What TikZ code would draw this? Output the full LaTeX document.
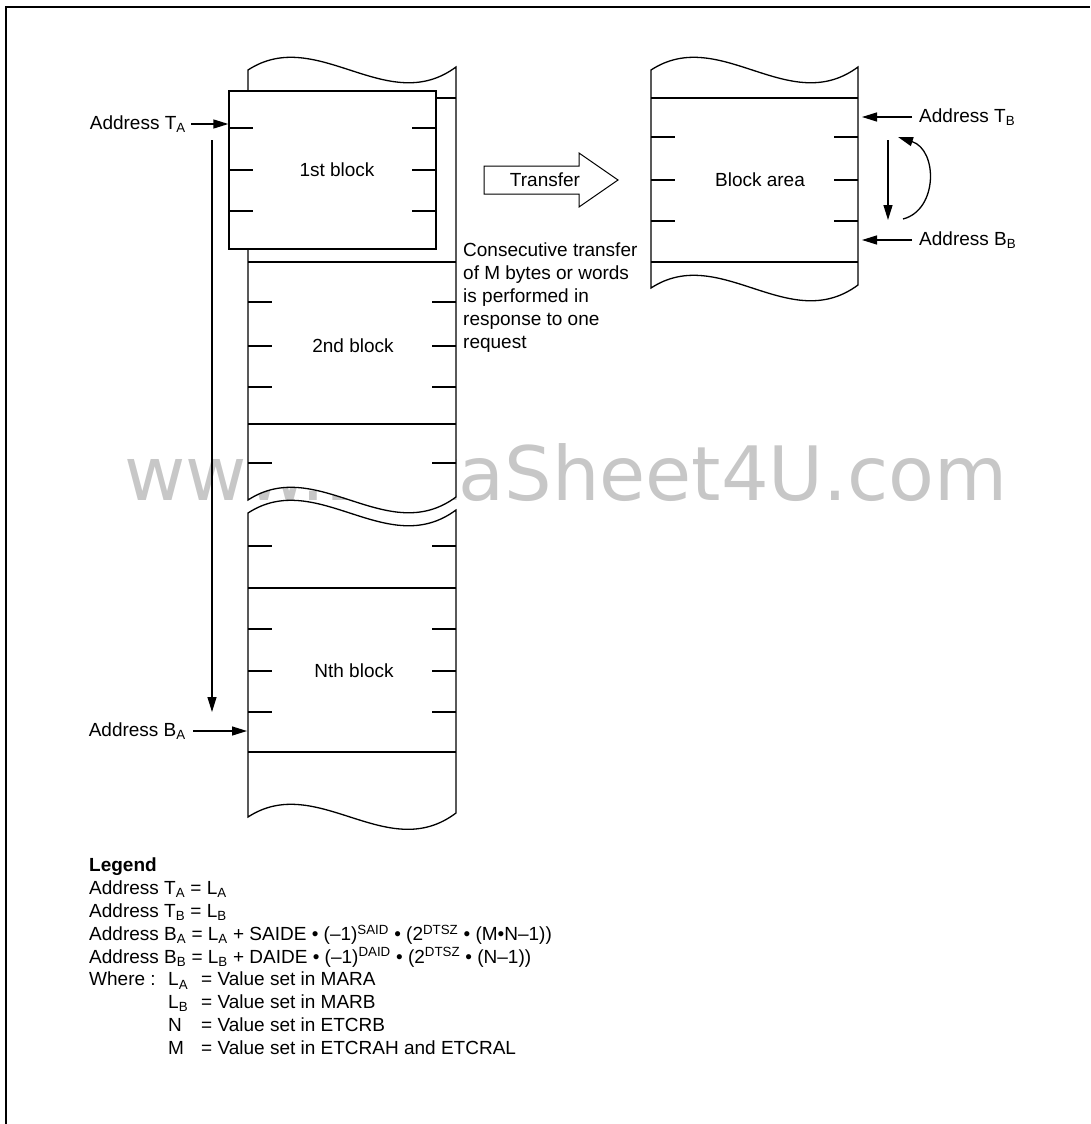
\documentclass[tikz,border=0pt]{standalone}
\usepackage{fontspec}
\setmainfont{Liberation Sans}
\newfontfamily\markfont{DejaVu Sans}
\usetikzlibrary{shapes.geometric, arrows, arrows.meta, positioning}

\tikzstyle{outline} = [
    draw=black,
    line width=1.3pt,
    fill=white
]
\tikzstyle{divider} = [line width=1.3pt]
\tikzstyle{txt} = [
    inner sep=0pt,
    font=\fontsize{19}{22.8}\selectfont
]
\tikzstyle{firstblock} = [
    rectangle,
    draw=black,
    line width=1.3pt,
    fill=white,
    minimum width=207pt,
    minimum height=158pt,
    inner sep=0pt,
    font=\fontsize{19}{22.8}\selectfont
]
\tikzstyle{arrow} = [line width=1.3pt, -{Triangle[length=15pt, width=9pt]}]

\begin{document}
\begin{tikzpicture}[x=1pt, y=-1pt]
\useasboundingbox (0,0) rectangle (1090,1124);

% frame
\draw[line width=2pt] (6,1124) -- (6,7) -- (1090,7);

% watermark
\node (mark) [inner sep=0pt, anchor=base east, text=black!22,
    font=\markfont\fontsize{75}{75}\selectfont] at (1008,500) {www.DataSheet4U.com};

% source area
\draw[outline] (248,70) .. controls (317,25) and (387,118) .. (456,67)
    -- (456,497) .. controls (387,548) and (317,455) .. (248,500) -- cycle;
\draw[outline] (248,513) .. controls (317,468) and (387,561) .. (456,510)
    -- (456,813) .. controls (387,865) and (317,772) .. (248,817) -- cycle;
\foreach \y in {98,262,424,588,752}
    \draw[divider] (248,\y) -- (456,\y);
\foreach \y in {302,346,387,463,546,629,671,712} {
    \draw[divider] (248,\y) -- +(24,0);
    \draw[divider] (456,\y) -- +(-24,0);
}

\node (blk1) [firstblock] at (332.5,170) {\hspace*{9pt}1st block};
\foreach \y in {128,170,211} {
    \draw[divider] (229,\y) -- +(24,0);
    \draw[divider] (436,\y) -- +(-24,0);
}
\node (blk2) [txt] at (353,346) {2nd block};
\node (blkn) [txt] at (354,671) {Nth block};

% destination area
\draw[outline] (651,70) .. controls (720,25) and (789,118) .. (858,67)
    -- (858,285) .. controls (789,336) and (720,243) .. (651,288) -- cycle;
\foreach \y in {98,262}
    \draw[divider] (651,\y) -- (858,\y);
\foreach \y in {137,180,221} {
    \draw[divider] (651,\y) -- +(24,0);
    \draw[divider] (858,\y) -- +(-24,0);
}
\node (area) [txt] at (760,180) {Block area};

% transfer
\draw[outline, line width=1pt] (484,166) -- (579,166) -- (579,153) -- (618,180)
    -- (579,207) -- (579,194) -- (484,194) -- cycle;
\node (xfer) [txt] at (545,180) {Transfer};
\node (note) [txt, anchor=north west, align=left] at (463,243)
{Consecutive transfer\\of M bytes or words\\is performed in\\response to one\\request};

% addresses
\node (ta) [txt, anchor=east] at (186,124) {Address T\textsubscript{A}};
\draw[arrow] ([xshift=5pt]ta.east) -- (blk1.west |- ta.east);
\node (ba) [txt, anchor=east] at (186,731) {Address B\textsubscript{A}};
\coordinate (baend) at (247,731);
\draw[arrow] ([xshift=7pt]ba.east) -- (baend);
\coordinate (vtop) at (212,140);
\coordinate (vbot) at (212,712);
\draw[arrow] (vtop) -- (vbot);

\node (tb) [txt, anchor=west] at (919,117) {Address T\textsubscript{B}};
\coordinate (tbend) at (862,117);
\draw[arrow] ([xshift=-7pt]tb.west) -- (tbend);
\node (bb) [txt, anchor=west] at (919,240) {Address B\textsubscript{B}};
\coordinate (bbend) at (862,240);
\draw[arrow] ([xshift=-7pt]bb.west) -- (bbend);

\coordinate (dtop) at (888,140);
\coordinate (dbot) at (888,220);
\draw[arrow] (dtop) -- (dbot);
\coordinate (cstart) at (903,219);
\coordinate (cend) at (898,137);
\draw[arrow] (cstart) .. controls (938,210) and (938,150) .. (cend);

% legend
\node (legend) [txt, anchor=north west, align=left] at (89,858) {%
\textbf{Legend}\\
Address T\textsubscript{A} = L\textsubscript{A}\\
Address T\textsubscript{B} = L\textsubscript{B}\\
Address B\textsubscript{A} = L\textsubscript{A} + SAIDE • (–1)\textsuperscript{SAID} • (2\textsuperscript{DTSZ} • (M•N–1))\\
Address B\textsubscript{B} = L\textsubscript{B} + DAIDE • (–1)\textsuperscript{DAID} • (2\textsuperscript{DTSZ} • (N–1))\\
\makebox[79pt][l]{Where :}\makebox[33pt][l]{L\textsubscript{A}}= Value set in MARA\\
\hspace*{79pt}\makebox[33pt][l]{L\textsubscript{B}}= Value set in MARB\\
\hspace*{79pt}\makebox[33pt][l]{N}= Value set in ETCRB\\
\hspace*{79pt}\makebox[33pt][l]{M}= Value set in ETCRAH and ETCRAL};

\end{tikzpicture}
\end{document}
